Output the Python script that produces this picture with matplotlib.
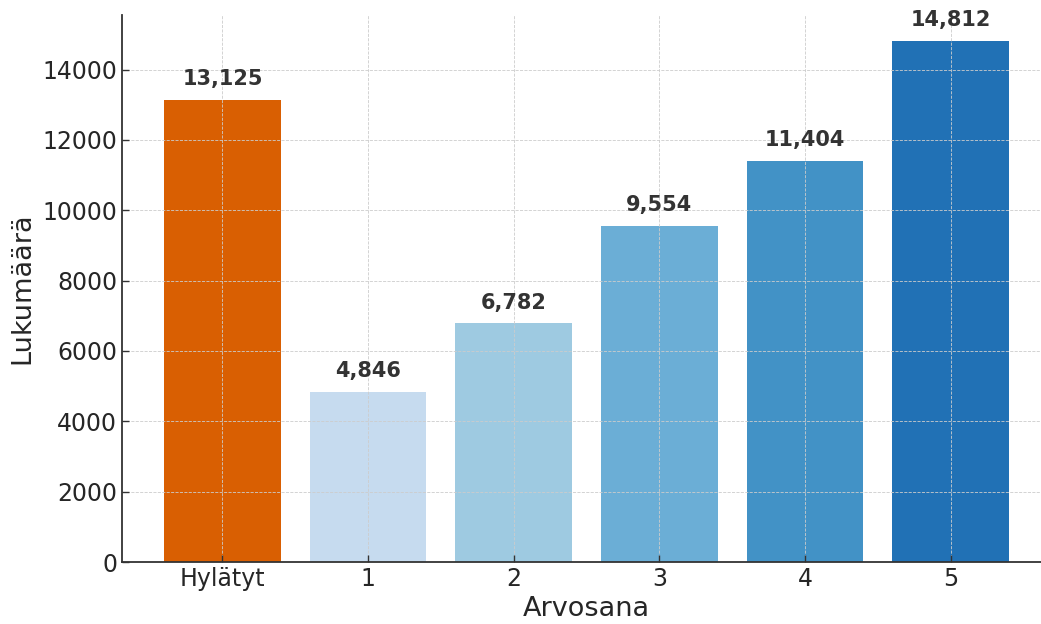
import matplotlib.pyplot as plt
import numpy as np

# grade distribution
categories = ["Hylätyt", "1", "2", "3", "4", "5"]
counts = [13125, 4846, 6782, 9554, 11404, 14812]
bar_colors = ["#d95f02", "#c6dbef", "#9ecae1", "#6baed6", "#4292c6", "#2171b5"]

fig = plt.figure(figsize=(10.41, 6.24), dpi=100)
ax = fig.add_axes([122 / 1041, 62 / 624, 929 / 1041, 547 / 624])

x = np.arange(len(categories))
ax.bar(x, counts, width=0.8, color=bar_colors)

# value above each bar
for xi, c in zip(x, counts):
    ax.text(xi, c + 310, f"{c:,}", ha="center", va="bottom",
            fontsize=15, fontweight="bold", color="#333333")

ax.set_xticks(x)
ax.set_xticklabels(categories)
ax.set_yticks(np.arange(0, 14001, 2000))
ax.set_xlim(-0.69, 5.69)
ax.set_ylim(0, max(counts) * 1.05)

ax.grid(True, linestyle="--", linewidth=0.6, color="#cccccc")
ax.tick_params(direction="in", length=5, width=1, colors="#333333",
               labelsize=17, labelcolor="#262626")
for s in ["top", "right"]:
    ax.spines[s].set_visible(False)
for s in ["left", "bottom"]:
    ax.spines[s].set_color("#333333")
    ax.spines[s].set_linewidth(1.3)

ax.set_xlabel("Arvosana", fontsize=19.5, color="#262626", labelpad=4)
ax.set_ylabel("Lukumäärä", fontsize=19.5, color="#262626", labelpad=5)

fig.savefig("out.png", dpi=100)
